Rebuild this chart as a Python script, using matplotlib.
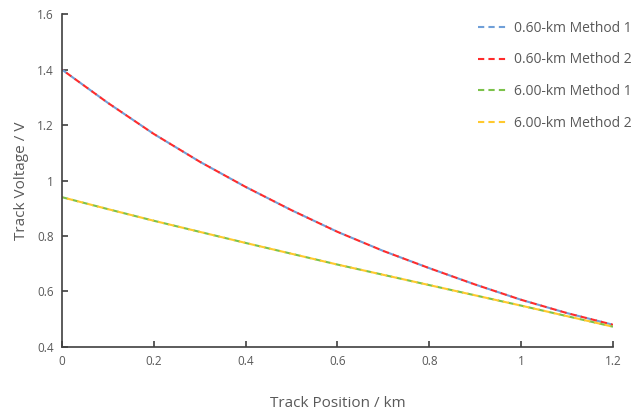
import matplotlib
matplotlib.use("Agg")
import matplotlib.pyplot as plt
from matplotlib.lines import Line2D
from matplotlib.ticker import FuncFormatter

plt.rcParams['font.family'] = ['Open Sans', 'DejaVu Sans']

# Track position (km)
posicion = [0.0, 0.1, 0.2, 0.3, 0.4, 0.5, 0.6, 0.7, 0.8, 0.9, 1.0, 1.1, 1.2]

# 0.60-km section, both methods give nearly the same curve
v_060_m1 = [1.400, 1.280, 1.168, 1.068, 0.977, 0.893, 0.815, 0.746, 0.684, 0.625, 0.570, 0.522, 0.480]
v_060_m2 = [1.400, 1.280, 1.168, 1.068, 0.977, 0.893, 0.815, 0.746, 0.684, 0.625, 0.570, 0.522, 0.480]

# 6.00-km section
v_600_m1 = [0.940, 0.897, 0.855, 0.815, 0.775, 0.736, 0.697, 0.660, 0.623, 0.586, 0.549, 0.511, 0.473]
v_600_m2 = [0.940, 0.897, 0.855, 0.815, 0.775, 0.736, 0.697, 0.660, 0.623, 0.586, 0.549, 0.511, 0.473]

etiquetas = ['0.60-km Method 1', '0.60-km Method 2', '6.00-km Method 1', '6.00-km Method 2']
colores = ['#6f9fd8', '#ff2b2b', '#7cc24a', '#ffc92e']

x_ticks = [0, 0.2, 0.4, 0.6, 0.8, 1.0, 1.2]
y_ticks = [0.4, 0.6, 0.8, 1.0, 1.2, 1.4, 1.6]

gris = '#595959'

fig = plt.figure(figsize=(6.37, 4.16), dpi=100)
ax = fig.add_axes([0.0973, 0.166, 0.865, 0.800])

# los metodos se solapan: desfase del trazo para que se vean ambos colores
series = [v_060_m1, v_060_m2, v_600_m1, v_600_m2]
estilos = [(0, (3, 2)), (2.5, (3, 2)), (0, (3, 2)), (2.5, (3, 2))]
for serie, color, estilo in zip(series, colores, estilos):
    ax.plot(posicion, serie, color=color, linewidth=1.5, linestyle=estilo)

ax.set_xlim(0, 1.2)
ax.set_ylim(0.4, 1.6)
ax.set_xticks(x_ticks)
ax.set_yticks(y_ticks)
fmt = FuncFormatter(lambda v, p: f'{v:g}')
ax.xaxis.set_major_formatter(fmt)
ax.yaxis.set_major_formatter(fmt)

ax.tick_params(direction='in', length=4, width=1.2, color='#404040', labelsize=8.5, labelcolor=gris, pad=6)
ax.spines['top'].set_visible(False)
ax.spines['right'].set_visible(False)
for s in ['left', 'bottom']:
    ax.spines[s].set_color('#404040')
    ax.spines[s].set_linewidth(1.2)

ax.set_xlabel('Track Position / km', fontsize=11, color=gris, labelpad=20)
ax.set_ylabel('Track Voltage / V', fontsize=11, color=gris, labelpad=6)

handles = [Line2D([], [], color=c, linewidth=1.5, linestyle=(0, (3, 2))) for c in colores]
leg = ax.legend(handles, etiquetas, loc='upper right', bbox_to_anchor=(1.012, 0.98),
                bbox_transform=fig.transFigure, frameon=False, fontsize=10,
                labelspacing=1.2, handlelength=2.2, handletextpad=0.4)
for t in leg.get_texts():
    t.set_color(gris)

fig.savefig('out.png', dpi=100)
